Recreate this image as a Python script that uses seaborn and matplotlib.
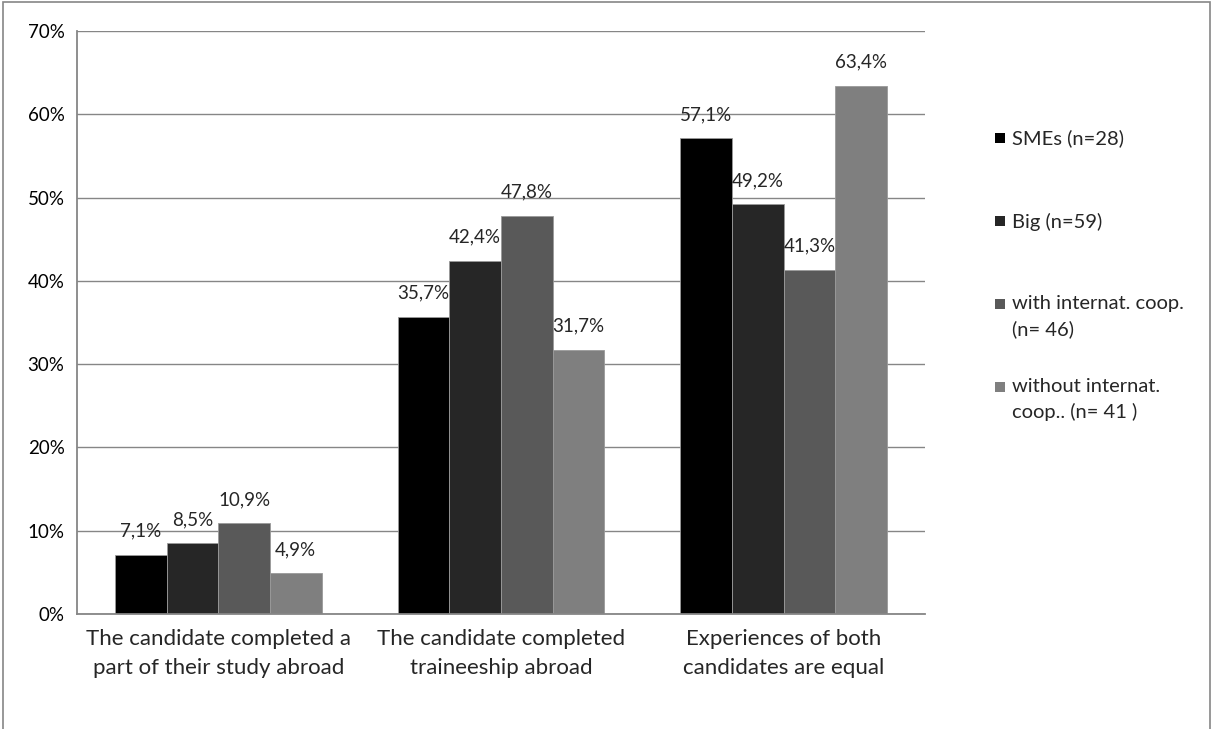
import matplotlib
matplotlib.use("Agg")
import matplotlib.pyplot as plt
import seaborn as sns
import pandas as pd
from matplotlib.patches import Rectangle

categories = ["The candidate completed a\npart of their study abroad",
              "The candidate completed\ntraineeship abroad",
              "Experiences of both\ncandidates are equal"]
series = ["SMEs (n=28)", "Big (n=59)", "with internat. coop.\n(n= 46)",
          "without internat.\ncoop.. (n= 41 )"]
values = {
    "SMEs (n=28)": [7.1, 35.7, 57.1],
    "Big (n=59)": [8.5, 42.4, 49.2],
    "with internat. coop.\n(n= 46)": [10.9, 47.8, 41.3],
    "without internat.\ncoop.. (n= 41 )": [4.9, 31.7, 63.4],
}
colors = ["#000000", "#262626", "#595959", "#7f7f7f"]
yticks = [0, 10, 20, 30, 40, 50, 60, 70]

rows = []
for s in series:
    for c, v in zip(categories, values[s]):
        rows.append({"category": c, "series": s, "value": v})
df = pd.DataFrame(rows)

sns.set_style("white")
plt.rcParams["font.family"] = ["Lato", "DejaVu Sans"]

W, H = 1213, 729
fig = plt.figure(figsize=(W / 100, H / 100), dpi=100)
ax = fig.add_axes([77 / W, (H - 614) / H, 848 / W, 583 / H])

sns.barplot(data=df, x="category", y="value", hue="series", hue_order=series,
            order=categories, palette=colors, width=0.73, gap=0,
            edgecolor="#9a9a9a", linewidth=0.6, saturation=1, ax=ax, legend=False)

ax.set_xlim(-0.5, 2.5)
ax.set_ylim(0, 70)
ax.set_yticks(yticks)
ax.set_yticklabels([f"{t}%" for t in yticks], fontsize=13.5)
ax.yaxis.grid(True, color="#868686", linewidth=1)
ax.set_axisbelow(True)
ax.set_xlabel("")
ax.set_ylabel("")

for sp in ["top", "right"]:
    ax.spines[sp].set_visible(False)
for sp in ["left", "bottom"]:
    ax.spines[sp].set_color("#868686")
    ax.spines[sp].set_linewidth(1.3)

ax.set_xticks([-0.5, 0.5, 1.5, 2.5])
ax.set_xticklabels([])
ax.set_xticks([0, 1, 2], minor=True)
ax.set_xticklabels(categories, minor=True, fontsize=16, linespacing=1.55)
ax.tick_params(axis="x", which="major", length=7, color="#868686", width=1, direction="out")
ax.tick_params(axis="x", which="minor", length=0, pad=11)
ax.tick_params(axis="y", length=6, color="#868686", width=1, direction="out", pad=3)
ax.tick_params(axis="both", labelcolor="#000000")

for cont, s in zip(ax.containers, series):
    labels = [f"{v:.1f}".replace(".", ",") + "%" for v in values[s]]
    ax.bar_label(cont, labels=labels, padding=11, fontsize=13.5)

# legend
leg_base = [146, 229, 312, 395]
for s, col, yb in zip(series, colors, leg_base):
    yc = yb - 8
    fig.patches.append(Rectangle((995 / W, 1 - (yc + 5) / H), 10 / W, 10 / H,
                                 transform=fig.transFigure, facecolor=col,
                                 edgecolor="none"))
    fig.text(1012 / W, 1 - (yb - 16.5) / H, s, fontsize=14.5, va="top", ha="left",
             linespacing=1.5)

# outer frame
fig.patches.append(Rectangle((3 / W, -0.05), (1210 - 3) / W, 1.05 - 2 / H,
                             transform=fig.transFigure, facecolor="none",
                             edgecolor="#868686", linewidth=1.2))

fig.savefig("out.png", dpi=100)
